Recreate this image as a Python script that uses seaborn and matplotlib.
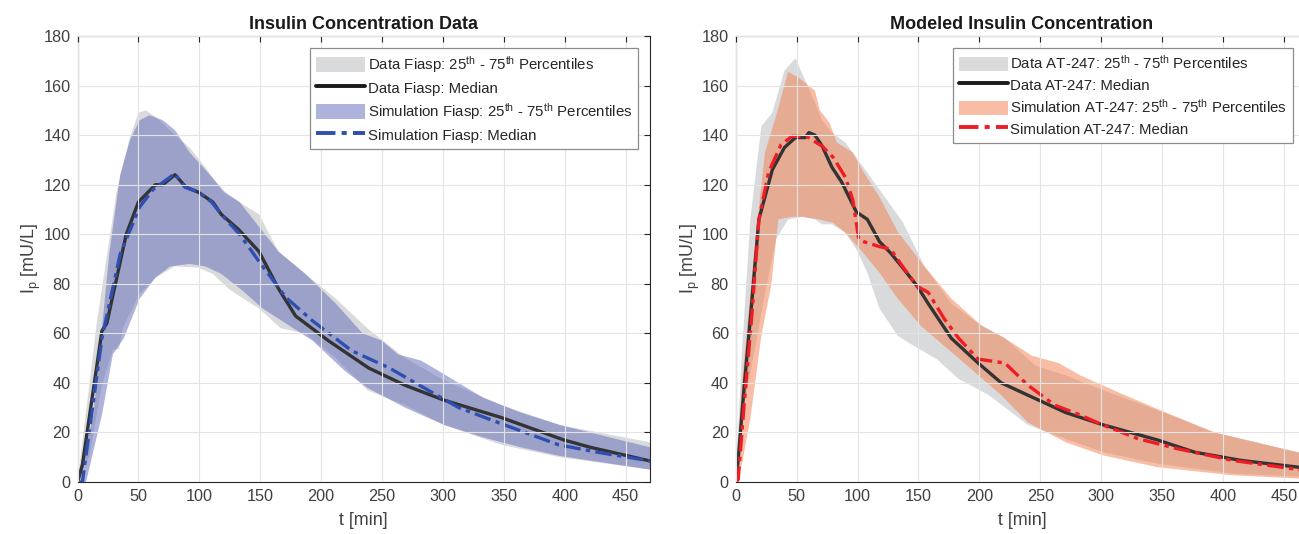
import numpy as np
import matplotlib
matplotlib.use("Agg")
import matplotlib.pyplot as plt
import seaborn as sns
from matplotlib.patches import Patch
from matplotlib.lines import Line2D

# ---------- data: Fiasp (left panel) ----------
data_fiasp_t = [0, 4, 20, 24, 40, 50, 64, 70, 80, 89, 99, 111, 118, 132, 149, 165,
                179, 206, 239, 269, 301, 348, 399, 421, 470]
data_fiasp_med = [0, 7, 61, 64, 100, 113, 120, 120, 124, 119, 117, 113, 108, 102, 93, 78,
                  67, 57, 46, 39, 33, 26, 17, 14, 8.5]

sim_fiasp_t = [0, 4, 20, 35, 51, 62, 80, 88, 99, 110, 118, 133, 149, 171, 193, 225,
               256, 288, 313, 348, 395, 427, 470]
sim_fiasp_med = [0, 0, 58, 92, 111, 118, 124.5, 119, 117, 113, 108, 100, 89, 74.5, 65, 53,
                 46, 37, 30, 23.5, 15, 12, 8.5]

data_fiasp_hi_t = [0, 16, 32, 43, 50, 56, 65, 80, 92, 105, 119, 136, 149, 165, 187, 212,
                   238, 269, 301, 348, 396, 470]
data_fiasp_hi = [0, 65, 117, 139, 149, 150, 147, 140, 135, 127, 117, 112, 108, 93, 84, 74,
                 62, 50, 41, 31, 23, 16]
data_fiasp_lo_t = [0, 10, 20, 29, 34, 37, 51, 64, 80, 99, 111, 124, 136, 149, 167, 187,
                   212, 238, 269, 301, 348, 396, 470]
data_fiasp_lo = [0, 11, 39, 53.5, 53.5, 62, 76, 82.5, 87, 86.5, 84, 78, 74, 70, 62, 60,
                 50, 37, 31, 23, 15, 10, 5]

sim_fiasp_hi_t = [0, 13, 26, 35, 43, 51, 59, 70, 80, 92, 105, 121, 133, 149, 165, 187,
                  212, 234, 250, 263, 282, 301, 333, 364, 396, 470]
sim_fiasp_hi = [0, 27, 92, 124, 138, 146, 148, 146, 142, 133, 126, 117, 113, 103, 93, 84,
                72, 60, 57, 51.5, 49, 43.5, 34, 28, 23, 14]
sim_fiasp_lo_t = [0, 7, 20, 29, 38, 51, 64, 76, 92, 105, 118, 136, 152, 171, 193, 219,
                  238, 269, 301, 333, 364, 396, 470]
sim_fiasp_lo = [0, 0, 27, 51.5, 58, 74, 82.5, 87, 88, 87, 84, 77, 70, 64, 57, 45,
                38, 30, 23, 18, 14, 10.5, 5]

# ---------- data: AT-247 (right panel) ----------
data_at_t = [0, 2, 7, 12, 19, 30, 40, 49, 57, 60, 65, 71, 79, 87, 94, 99, 108, 118, 127,
             137, 149, 158, 177, 199, 218, 240, 271, 302, 346, 377, 415, 470]
data_at_med = [0, 9, 39, 66, 106, 126, 135, 139, 139, 141, 140, 135.5, 127, 121, 114, 109,
               106, 97, 92.5, 86.5, 79, 72, 58, 48, 40, 35, 28, 23, 17, 12, 8.7, 5.5]

sim_at_t = [0, 2, 7, 13, 19, 27, 37, 46, 58, 71, 80, 90, 96, 101, 105, 118, 127, 137, 149,
            158, 171, 183, 199, 221, 240, 262, 283, 299, 330, 362, 408, 470]
sim_at_med = [0, 1, 32, 66, 106, 125, 136, 139.5, 139.5, 135.5, 131, 123, 114, 98, 97, 95,
              94, 87, 79, 76.5, 66, 58, 49.6, 48, 39, 31, 27, 23.5, 17.5, 13.5, 8.7, 4.5]

data_at_hi_t = [0, 5, 12, 21, 30, 40, 49, 58, 65, 71, 79, 90, 99, 118, 137, 155, 177, 199,
                221, 246, 271, 299, 346, 393, 470]
data_at_hi = [0, 52, 106, 143.5, 149, 166, 171, 161, 153, 146, 141, 137, 131, 118, 105, 87,
              72, 64, 58, 47, 43, 37.5, 29, 20, 11]
data_at_lo_t = [0, 5, 15, 24, 33, 43, 55, 65, 71, 79, 90, 99, 108, 118, 133, 146, 165, 183,
                208, 240, 271, 302, 346, 408, 470]
data_at_lo = [0, 25.5, 52, 76, 98, 106, 107, 106, 104, 104, 100.6, 94, 84.5, 70, 59, 55,
              49.6, 41.6, 35, 23, 17.4, 12, 7.4, 3.4, 2]

sim_at_hi_t = [0, 5, 15, 24, 33, 43, 52, 65, 69, 77, 83, 96, 105, 118, 133, 155, 177, 202,
               221, 243, 265, 283, 315, 346, 393, 470]
sim_at_hi = [0, 39, 92.5, 133, 147.5, 165.6, 163, 158, 150, 145, 137, 133, 125, 115, 101,
             87, 74, 63, 58, 51, 48, 43, 36, 29.5, 20, 11]
sim_at_lo_t = [0, 5, 12, 21, 29, 35, 46, 55, 68, 80, 90, 102, 118, 133, 152, 171, 190, 218,
               240, 271, 302, 346, 408, 470]
sim_at_lo = [0, 7, 25.5, 59, 79, 106, 107, 107, 106, 104.6, 100.6, 94, 84.5, 74, 63, 55,
             47, 35, 24, 16, 10.7, 6, 2.7, 1.2]

# ---------- style ----------
sns.set_style("white")
plt.rcParams.update({
    "font.family": ["Liberation Sans", "DejaVu Sans"],
    "mathtext.default": "regular",
    "axes.edgecolor": "#262626",
    "axes.linewidth": 0.8,
    "xtick.color": "#262626",
    "ytick.color": "#262626",
    "xtick.labelcolor": "#404040",
    "ytick.labelcolor": "#404040",
    "xtick.direction": "in",
    "ytick.direction": "in",
    "xtick.top": True,
    "ytick.right": True,
    "xtick.major.size": 4.5,
    "ytick.major.size": 4.5,
    "xtick.major.pad": 5,
    "ytick.major.pad": 5,
})

gray_band = "#d9dadc"
blue_band = "#6169b9"
orange_band = "#f37d4b"
median_dark = "#333333"
blue_line = "#2f4fb0"
red_line = "#ee1d25"
dashdot = (5, 1.6, 1.3, 1.6)


def band(ax, t_hi, y_hi, t_lo, y_lo, color, alpha):
    xs = np.r_[t_hi, t_lo[::-1]]
    ys = np.r_[y_hi, y_lo[::-1]]
    ax.fill(xs, ys, color=color, alpha=alpha, lw=0)


def panel(ax, title, name, bands, med_data, med_sim, sim_color, sim_band):
    band(ax, *bands[0], gray_band, 1.0)
    band(ax, *bands[1], sim_band, 0.5)
    sns.lineplot(x=med_data[0], y=med_data[1], ax=ax, color=median_dark, lw=2.4,
                 estimator=None, sort=False)
    sns.lineplot(x=med_sim[0], y=med_sim[1], ax=ax, color=sim_color, lw=2.4,
                 estimator=None, sort=False, dashes=False)
    ax.lines[-1].set_dashes(dashdot)

    ax.set_xlim(0, 470)
    ax.set_ylim(0, 180)
    ax.set_xticks(np.arange(0, 451, 50))
    ax.set_yticks(np.arange(0, 181, 20))
    ax.grid(True, color="#e4e4e4", lw=0.8)
    ax.set_axisbelow(False)
    ax.tick_params(labelsize=11.7)
    for s in ax.spines.values():
        s.set_visible(True)
    ax.set_title(title, fontsize=13, fontweight="bold", color="#1a1a1a", pad=5)
    ax.set_xlabel("t [min]", fontsize=12.9, color="#404040", labelpad=6)
    ax.set_ylabel("I$_{p}$ [mU/L]", fontsize=12.9, color="#404040", labelpad=0)

    handles = [
        Patch(facecolor=gray_band, edgecolor="none"),
        Line2D([], [], color="#1a1a1a", lw=2.8),
        Patch(facecolor=sim_band, alpha=0.5, edgecolor="none"),
        Line2D([], [], color=sim_color, lw=2.8, dashes=dashdot),
    ]
    labels = [
        f"Data {name}: 25$^{{th}}$ - 75$^{{th}}$ Percentiles",
        f"Data {name}: Median",
        f"Simulation {name}: 25$^{{th}}$ - 75$^{{th}}$ Percentiles",
        f"Simulation {name}: Median",
    ]
    return handles, labels


fig = plt.figure(figsize=(12.99, 5.34), dpi=100)
ax1 = fig.add_axes([0.0597, 0.0974, 0.4407, 0.8352])
ax2 = fig.add_axes([0.5664, 0.0974, 0.4407, 0.8352])

h1, l1 = panel(ax1, "Insulin Concentration Data", "Fiasp",
               [(data_fiasp_hi_t, data_fiasp_hi, data_fiasp_lo_t, data_fiasp_lo),
                (sim_fiasp_hi_t, sim_fiasp_hi, sim_fiasp_lo_t, sim_fiasp_lo)],
               (data_fiasp_t, data_fiasp_med), (sim_fiasp_t, sim_fiasp_med),
               blue_line, blue_band)
h2, l2 = panel(ax2, "Modeled Insulin Concentration", "AT-247",
               [(data_at_hi_t, data_at_hi, data_at_lo_t, data_at_lo),
                (sim_at_hi_t, sim_at_hi, sim_at_lo_t, sim_at_lo)],
               (data_at_t, data_at_med), (sim_at_t, sim_at_med),
               red_line, orange_band)

for ax, h, l, xr in [(ax1, h1, l1, 0.979), (ax2, h2, l2, 0.974)]:
    leg = ax.legend(h, l, loc="upper right", bbox_to_anchor=(xr, 0.973),
                    borderaxespad=0, fontsize=10.8, handlelength=3.3, handleheight=1.1,
                    labelspacing=0.36, handletextpad=0.15, borderpad=0.4,
                    fancybox=False, framealpha=1, edgecolor="#8c8c8c")
    leg.get_frame().set_linewidth(0.9)
    for t in leg.get_texts():
        t.set_color("#262626")

fig.savefig("out.png", dpi=100, facecolor="white")
